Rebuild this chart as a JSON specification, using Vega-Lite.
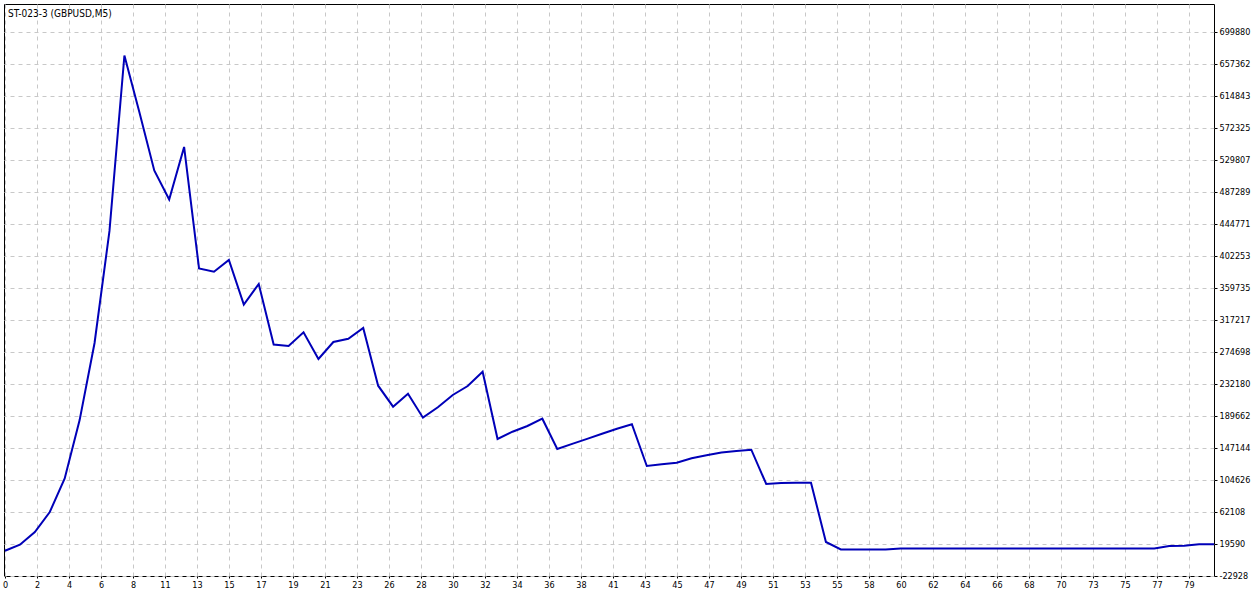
{
  "$schema": "https://vega.github.io/schema/vega-lite/v6.json",
  "width": 1210,
  "height": 572,
  "autosize": "none",
  "padding": {"left": 4, "top": 4, "right": 46, "bottom": 17},
  "background": "white",
  "config": {
    "view": {"stroke": "black", "strokeWidth": 1},
    "axis": {
      "grid": true,
      "gridColor": "#c8c8c8",
      "gridDash": [4, 4],
      "gridWidth": 1,
      "domain": false,
      "ticks": true,
      "tickColor": "black",
      "tickSize": 3,
      "labelFont": "DejaVu Sans Condensed, DejaVu Sans",
      "labelFontSize": 9,
      "labelColor": "black",
      "labelFlush": false,
      "labelOverlap": false,
      "labelBound": false,
      "title": null
    }
  },
  "encoding": {
    "x": {
      "field": "t",
      "type": "quantitative",
      "scale": {"domain": [-0.067, 81], "nice": false, "zero": false},
      "axis": {
        "values": [0, 2.1439, 4.2878, 6.4317, 8.5756, 10.7196, 12.8635, 15.0074, 17.1513, 19.2952, 21.4391, 23.583, 25.7269, 27.8708, 30.0147, 32.1587, 34.3026, 36.4465, 38.5904, 40.7343, 42.8782, 45.0221, 47.166, 49.3099, 51.4538, 53.5978, 55.7417, 57.8856, 60.0295, 62.1734, 64.3173, 66.4612, 68.6051, 70.749, 72.8929, 75.0369, 77.1808, 79.3247],
        "labelExpr": "['0','2','4','6','8','11','13','15','17','19','21','23','26','28','30','32','34','36','38','41','43','45','47','49','51','53','55','58','60','62','64','66','68','70','73','75','77','79'][round(datum.value / 2.14391)]",
        "labelOverlap": false,
        "labelPadding": 2,
        "tickSize": 2
      }
    },
    "y": {
      "field": "balance",
      "type": "quantitative",
      "scale": {"domain": [-23327, 736670], "nice": false, "zero": false},
      "axis": {
        "orient": "right",
        "values": [-22928, 19590, 62108, 104626, 147144, 189662, 232180, 274698, 317217, 359735, 402253, 444771, 487289, 529807, 572325, 614843, 657362, 699880],
        "labelExpr": "'' + datum.value",
        "labelOverlap": false,
        "labelPadding": 2,
        "tickSize": 3
      }
    }
  },
  "layer": [
    {
      "data": {
        "values": [
          {"t": 0, "balance": 10290}, {"t": 1, "balance": 18260}, {"t": 2, "balance": 35140},
          {"t": 3, "balance": 61710}, {"t": 4, "balance": 106350}, {"t": 5, "balance": 183820},
          {"t": 6, "balance": 286260}, {"t": 7, "balance": 435200}, {"t": 8, "balance": 668260},
          {"t": 9, "balance": 593190}, {"t": 10, "balance": 515460}, {"t": 11, "balance": 476930},
          {"t": 12, "balance": 546680}, {"t": 13, "balance": 385250}, {"t": 14, "balance": 380990},
          {"t": 15, "balance": 396540}, {"t": 16, "balance": 337410}, {"t": 17, "balance": 364650},
          {"t": 18, "balance": 284270}, {"t": 19, "balance": 282270}, {"t": 20, "balance": 300480},
          {"t": 21, "balance": 265000}, {"t": 22, "balance": 287590}, {"t": 23, "balance": 291970},
          {"t": 24, "balance": 306190}, {"t": 25, "balance": 229520}, {"t": 26, "balance": 201620},
          {"t": 27, "balance": 218890}, {"t": 28, "balance": 187010}, {"t": 29, "balance": 200820},
          {"t": 30, "balance": 217170}, {"t": 31, "balance": 229130}, {"t": 32, "balance": 248130},
          {"t": 33, "balance": 158700}, {"t": 34, "balance": 168400}, {"t": 35, "balance": 175980},
          {"t": 36, "balance": 185680}, {"t": 37, "balance": 145420}, {"t": 38, "balance": 152190},
          {"t": 39, "balance": 158840}, {"t": 40, "balance": 165610}, {"t": 41, "balance": 172260},
          {"t": 42, "balance": 178300}, {"t": 43, "balance": 122830}, {"t": 44, "balance": 125000},
          {"t": 45, "balance": 127210}, {"t": 46, "balance": 133060}, {"t": 47, "balance": 137050},
          {"t": 48, "balance": 140770}, {"t": 49, "balance": 142760}, {"t": 50, "balance": 144490},
          {"t": 51, "balance": 98910}, {"t": 52, "balance": 100240}, {"t": 53, "balance": 100500},
          {"t": 54, "balance": 100640}, {"t": 55, "balance": 21850}, {"t": 56, "balance": 11880},
          {"t": 57, "balance": 11880}, {"t": 58, "balance": 11880}, {"t": 59, "balance": 11880},
          {"t": 60, "balance": 13210}, {"t": 61, "balance": 13210}, {"t": 62, "balance": 13210},
          {"t": 63, "balance": 13210}, {"t": 64, "balance": 13210}, {"t": 65, "balance": 13210},
          {"t": 66, "balance": 13210}, {"t": 67, "balance": 13210}, {"t": 68, "balance": 13210},
          {"t": 69, "balance": 13210}, {"t": 70, "balance": 13210}, {"t": 71, "balance": 13210},
          {"t": 72, "balance": 13210}, {"t": 73, "balance": 13210}, {"t": 74, "balance": 13210},
          {"t": 75, "balance": 13210}, {"t": 76, "balance": 13210}, {"t": 77, "balance": 13210},
          {"t": 78, "balance": 16530}, {"t": 79, "balance": 16800}, {"t": 80, "balance": 18790},
          {"t": 81, "balance": 18790}
        ]
      },
      "mark": {"type": "line", "color": "#0000b8", "strokeWidth": 2, "clip": true}
    },
    {
      "data": {"values": [{"label": "ST-023-3 (GBPUSD,M5)", "t": 0, "balance": 736670}]},
      "mark": {
        "type": "text",
        "align": "left",
        "baseline": "top",
        "dx": 3,
        "dy": 5,
        "font": "DejaVu Sans Condensed, DejaVu Sans",
        "fontSize": 10,
        "color": "black"
      },
      "encoding": {
        "text": {"field": "label"}
      }
    }
  ]
}
